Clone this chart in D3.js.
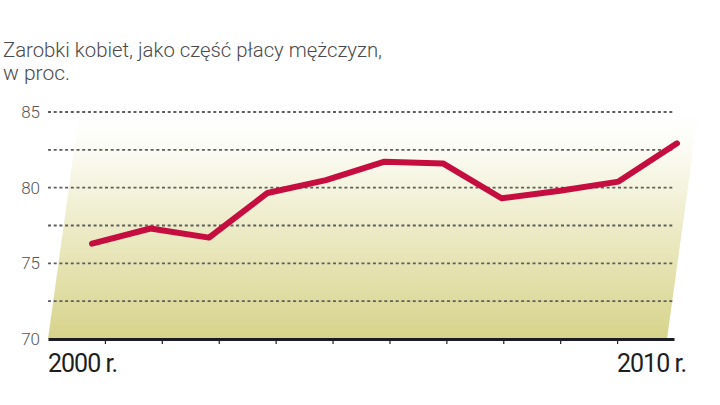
<!DOCTYPE html>
<html><head><meta charset="utf-8">
<script src="https://cdn.jsdelivr.net/npm/d3@7"></script>
<style>
html,body{margin:0;padding:0;background:#fff;}
svg{display:block;}
</style></head>
<body>
<svg id="chart" width="720" height="405"></svg>
<script>
const years = [2000,2001,2002,2003,2004,2005,2006,2007,2008,2009,2010];
const values = [76.3,77.3,76.7,79.65,80.5,81.72,81.6,79.3,79.8,80.4,82.93];
const yTicks = [70,75,80,85];
const gridValues = [72.5,75,77.5,80,82.5,85];
const xLabels = ["2000 r.","2010 r."];
const titleLines = ["Zarobki kobiet, jako część płacy mężczyzn,","w proc."];

const svg = d3.select("#chart");
const y = d3.scaleLinear().domain([70,85]).range([339,112]);
const x = d3.scaleLinear().domain([2000,2010]).range([92,677]);
const xa = d3.scaleLinear().domain([0,11]).range([48,674]);
const slant = 0.138;

// gradient
const defs = svg.append("defs");
const grad = defs.append("linearGradient").attr("id","bg").attr("x1",0).attr("y1",1).attr("x2",0).attr("y2",0);
grad.append("stop").attr("offset","0%").attr("stop-color","#d7d38b");
grad.append("stop").attr("offset","45%").attr("stop-color","#ebe9c2");
grad.append("stop").attr("offset","85%").attr("stop-color","#fcfcf6");
grad.append("stop").attr("offset","100%").attr("stop-color","#ffffff");

const yb = y(70), yt = y(85);
const h = yb - yt;
const xl = 48, xr = 667;
svg.append("path")
  .attr("d", `M${xl},${yb} L${xr},${yb} L${xr+h*slant},${yt} L${xl+h*slant},${yt} Z`)
  .attr("fill","url(#bg)");

// title
svg.append("g").selectAll("text").data(titleLines).join("text")
  .attr("x",3).attr("y",(d,i)=>57+i*23)
  .attr("font-family","Roboto, 'Liberation Sans', sans-serif")
  .attr("font-weight",300)
  .attr("font-size",21).attr("fill","#4a4a4a")
  .text(d=>d)
  .each(function(d,i){ if(i===0){ d3.select(this).attr("textLength",379).attr("lengthAdjust","spacingAndGlyphs"); } });

// gridlines
svg.append("g").selectAll("line").data(gridValues).join("line")
  .attr("x1",48).attr("x2",674)
  .attr("y1",d=>y(d)).attr("y2",d=>y(d))
  .attr("stroke","#5e5e5e").attr("stroke-width",1.8)
  .attr("stroke-dasharray","3,2.7");

// y labels
svg.append("g").selectAll("text").data(yTicks).join("text")
  .attr("x",40).attr("y",d=>y(d)).attr("dy","0.35em")
  .attr("text-anchor","end")
  .attr("font-family","Roboto, 'Liberation Sans', sans-serif")
  .attr("font-weight",300)
  .attr("font-size",17).attr("fill","#555")
  .text(d=>d);

// x axis
const axis = d3.axisBottom(xa).tickValues(d3.range(1,11)).tickSize(5).tickSizeOuter(0).tickFormat("");
const ag = svg.append("g").attr("transform",`translate(0,${yb})`).call(axis);
ag.select(".domain").attr("stroke","#1c1c24").attr("stroke-width",3);
ag.selectAll(".tick line").attr("stroke","#222").attr("stroke-width",1.2);

// x labels
svg.append("g").selectAll("text").data(xLabels).join("text")
  .attr("x",(d,i)=> i===0 ? 48 : 617)
  .attr("y",372)
  .attr("font-family","Roboto, 'Liberation Sans', sans-serif")
  .attr("font-size",25).attr("fill","#1e1e1e")
  .attr("textLength",69).attr("lengthAdjust","spacingAndGlyphs")
  .attr("letter-spacing",-1)
  .text(d=>d);

// line
const line = d3.line().x((d,i)=>x(years[i])).y(d=>y(d));
svg.append("path").datum(values)
  .attr("d",line)
  .attr("fill","none")
  .attr("stroke","#c60d40")
  .attr("stroke-width",6)
  .attr("stroke-linejoin","round")
  .attr("stroke-linecap","round");
</script>
</body></html>
